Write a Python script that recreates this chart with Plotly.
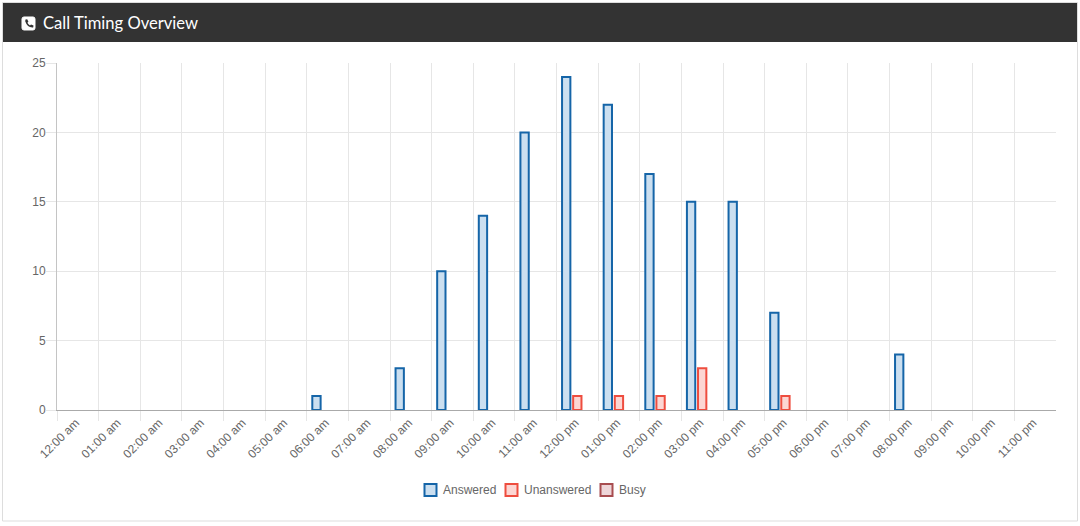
import plotly.graph_objects as go

WIDTH, HEIGHT = 1080, 526

hours = ["12:00 am", "01:00 am", "02:00 am", "03:00 am", "04:00 am", "05:00 am",
         "06:00 am", "07:00 am", "08:00 am", "09:00 am", "10:00 am", "11:00 am",
         "12:00 pm", "01:00 pm", "02:00 pm", "03:00 pm", "04:00 pm", "05:00 pm",
         "06:00 pm", "07:00 pm", "08:00 pm", "09:00 pm", "10:00 pm", "11:00 pm"]
answered = [0, 0, 0, 0, 0, 0, 1, 0, 3, 10, 14, 20, 24, 22, 17, 15, 15, 7, 0, 0, 4, 0, 0, 0]
unanswered = [0, 0, 0, 0, 0, 0, 0, 0, 0, 0, 0, 0, 1, 1, 1, 3, 0, 1, 0, 0, 0, 0, 0, 0]
busy = [0] * 24
y_ticks = [0, 5, 10, 15, 20, 25]

series_names = ["Answered", "Unanswered", "Busy"]
series_values = [answered, unanswered, busy]
edge_colors = ["#1565a8", "#ee4d3f", "#a84d50"]
fill_colors = ["#cbdff0", "#fcd6d3", "#eed6d9"]
legend_swatch_left = [424.5, 505.5, 600.5]
legend_text_left = [443, 524, 619]

TEXT = "#666666"
GRID = "#e6e6e6"


def px_x(v):
    return v / WIDTH


def px_y(v):
    return 1 - v / HEIGHT


def pixel_path(commands):
    """Build an SVG path in paper coordinates from pixel-space commands."""
    parts = []
    for cmd, *pts in commands:
        coords = " ".join(f"{px_x(x):.6f},{px_y(y):.6f}" for x, y in pts)
        parts.append(f"{cmd} {coords}".strip())
    return " ".join(parts)


fig = go.Figure()
for name, values, edge, fill in zip(series_names, series_values, edge_colors, fill_colors):
    # Empty hours carry no bar at all, not even a flat outline
    fig.add_bar(name=name, x=hours, y=[v if v else None for v in values],
                marker=dict(color=fill, line=dict(color=edge, width=2)),
                showlegend=False)

# Panel outline and dark header bar
shapes = [
    dict(type="rect", xref="paper", yref="paper", layer="below",
         x0=px_x(2.5), x1=px_x(1077.5), y0=px_y(521), y1=px_y(2.5),
         line=dict(color="#dddddd", width=1), fillcolor="white"),
    dict(type="rect", xref="paper", yref="paper", layer="below",
         x0=px_x(3), x1=px_x(1077), y0=px_y(42), y1=px_y(3),
         line=dict(width=0), fillcolor="#333333"),
]

# Phone badge: rounded white square with a dark handset on it
shapes.append(dict(
    type="path", xref="paper", yref="paper", layer="above",
    path=pixel_path([
        ("M", (24, 17)), ("L", (33, 17)), ("Q", (35, 17), (35, 19)),
        ("L", (35, 28)), ("Q", (35, 30), (33, 30)), ("L", (24, 30)),
        ("Q", (22, 30), (22, 28)), ("L", (22, 19)), ("Q", (22, 17), (24, 17)), ("Z",),
    ]),
    fillcolor="white", line=dict(color="white", width=1)))
shapes.append(dict(
    type="path", xref="paper", yref="paper", layer="above",
    path=pixel_path([
        ("M", (25.5, 19.5)), ("L", (27.2, 19.2)), ("L", (28.4, 21.8)), ("L", (27.4, 22.8)),
        ("Q", (28.2, 24.6), (30, 25.5)), ("L", (31, 24.4)), ("L", (33.5, 25.6)),
        ("L", (33.2, 27.4)), ("Q", (27.5, 28), (25.2, 21.2)), ("Z",),
    ]),
    fillcolor="#333333", line=dict(width=0)))

annotations = [
    dict(text="Call Timing Overview", xref="paper", yref="paper", showarrow=False,
         x=px_x(41), y=px_y(23), xanchor="left", yanchor="middle",
         font=dict(family="Lato", size=16.6, color="white")),
]

# Legend row: bordered swatch followed by the series name
for name, edge, fill, sw, tx in zip(series_names, edge_colors, fill_colors,
                                    legend_swatch_left, legend_text_left):
    shapes.append(dict(type="rect", xref="paper", yref="paper", layer="above",
                       x0=px_x(sw), x1=px_x(sw + 12), y0=px_y(496), y1=px_y(484),
                       line=dict(color=edge, width=2), fillcolor=fill))
    annotations.append(dict(text=name, xref="paper", yref="paper", showarrow=False,
                            x=px_x(tx), y=px_y(490), xanchor="left", yanchor="middle",
                            xshift=-2,
                            font=dict(family="Liberation Sans", size=12, color=TEXT)))

fig.update_layout(
    width=WIDTH, height=HEIGHT, autosize=False,
    margin=dict(l=0, r=0, t=0, b=0),
    paper_bgcolor="white", plot_bgcolor="white",
    font=dict(family="Liberation Sans", size=12, color=TEXT),
    barmode="group", bargap=0.2, bargroupgap=0.25,
    showlegend=False,
    shapes=shapes, annotations=annotations,
    xaxis=dict(domain=[px_x(57), px_x(1056)], type="category",
               categoryorder="array", categoryarray=hours,
               tickson="boundaries", ticks="outside", ticklen=10, tickwidth=1,
               tickcolor=GRID, showgrid=True, gridcolor=GRID, gridwidth=1,
               showline=True, linecolor="#aaaaaa", linewidth=1,
               tickangle=-45, ticklabelshift=-2, zeroline=False, automargin=False),
    yaxis=dict(domain=[px_y(410), px_y(63)], range=[0, 25], tickvals=y_ticks,
               ticks="outside", ticklen=10, tickwidth=1, tickcolor=GRID,
               ticklabelstandoff=-2,
               showgrid=True, gridcolor=GRID, gridwidth=1,
               showline=True, linecolor="#c4c4c4", linewidth=1,
               zeroline=False, automargin=False),
)

fig.write_html("out.html", config=dict(displayModeBar=False))
